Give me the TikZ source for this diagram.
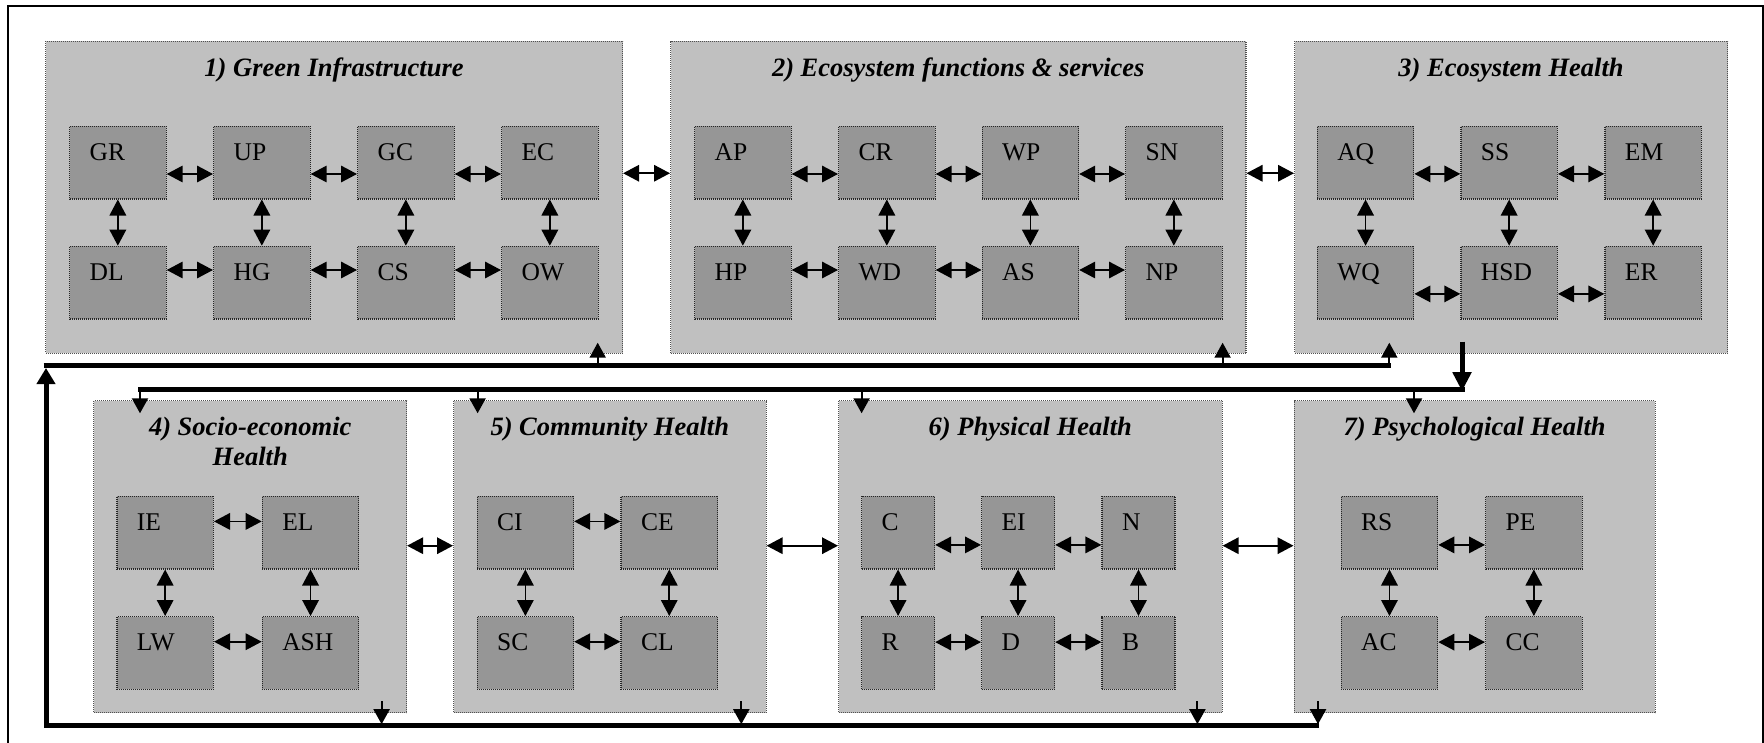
\documentclass[tikz,border=0pt]{standalone}
\usepackage{fontspec}
\setmainfont{Liberation Serif}
\usetikzlibrary{arrows.meta,calc}
\definecolor{bigfill}{RGB}{192,192,192}
\definecolor{innerfill}{RGB}{150,150,150}
\definecolor{dotcol}{RGB}{80,80,80}
\begin{document}
\begin{tikzpicture}[x=1pt,y=-1pt,
 bigbox/.style={draw=dotcol, dash pattern=on 1pt off 1pt, line width=1.1pt, fill=bigfill, anchor=north west, inner sep=0pt},
 ib/.style={draw=black!85, dash pattern=on 1pt off 1pt, line width=1.2pt, fill=innerfill, anchor=north west, inner xsep=20pt, inner ysep=0pt, align=left, text height=34.3pt, text depth=38.3pt, font=\fontsize{25.5}{28}\selectfont},
 ibw/.style={ib, text width=56.5pt},
 ibn/.style={ib, text width=33pt},
 ttl/.style={font=\fontsize{26.5}{30}\selectfont\bfseries\itshape, inner sep=0pt, anchor=base, align=center},
 arr/.style={line width=1.7pt, {Triangle[length=16pt,width=16.5pt]}-{Triangle[length=16pt,width=16.5pt]}},
 thinarr/.style={line width=2pt, -{Triangle[length=15pt,width=16pt]}},
 thickln/.style={line width=5pt}
 ]
\useasboundingbox (0,0) rectangle (1764,742);
% frame
\draw[line width=2pt] (7.7,760) -- (7.7,6) -- (1763,6) -- (1763,760);

% big boxes
\node[bigbox, minimum width=577pt, minimum height=312pt] (b1) at (45,40.7) {};
\node[bigbox, minimum width=575.4pt, minimum height=312pt] (b2) at (670,40.7) {};
\node[bigbox, minimum width=433pt, minimum height=312pt] (b3) at (1294,40.7) {};
\node[bigbox, minimum width=312.7pt, minimum height=312.3pt] (b4) at (93.3,400) {};
\node[bigbox, minimum width=312.5pt, minimum height=312.3pt] (b5) at (453,400) {};
\node[bigbox, minimum width=383.5pt, minimum height=312.3pt] (b6) at (838,400) {};
\node[bigbox, minimum width=361pt, minimum height=312.3pt] (b7) at (1293.5,400) {};

% titles
\node[ttl] (t1) at ($(b1.north)+(0,35.3)$) {1) Green Infrastructure};
\node[ttl] (t2) at ($(b2.north)+(0,35.3)$) {2) Ecosystem functions \& services};
\node[ttl] (t3) at ($(b3.north)+(0,35.3)$) {3) Ecosystem Health};
\node[ttl] (t4) at ($(b4.north)+(0,65)$) {4) Socio-economic\\Health};
\node[ttl] (t5) at ($(b5.north)+(0,35)$) {5) Community Health};
\node[ttl] (t6) at ($(b6.north)+(0,35)$) {6) Physical Health};
\node[ttl] (t7) at ($(b7.north)+(0,35)$) {7) Psychological Health};

% box 1
\node[ibw] (GR) at (69,125.7) {GR};
\node[ibw] (UP) at (213,125.7) {UP};
\node[ibw] (GC) at (357,125.7) {GC};
\node[ibw] (EC) at (501,125.7) {EC};
\node[ibw] (DL) at (69,245.7) {DL};
\node[ibw] (HG) at (213,245.7) {HG};
\node[ibw] (CS) at (357,245.7) {CS};
\node[ibw] (OW) at (501,245.7) {OW};
% box 2
\node[ibw] (AP) at (694,125.7) {AP};
\node[ibw] (CR) at (838,125.7) {CR};
\node[ibw] (WP) at (981.5,125.7) {WP};
\node[ibw] (SN) at (1125,125.7) {SN};
\node[ibw] (HP) at (694,245.7) {HP};
\node[ibw] (WD) at (838,245.7) {WD};
\node[ibw] (AS) at (981.5,245.7) {AS};
\node[ibw] (NP) at (1125,245.7) {NP};
% box 3
\node[ibw] (AQ) at (1316.7,125.7) {AQ};
\node[ibw] (SS) at (1460.3,125.7) {SS};
\node[ibw] (EM) at (1604.3,125.7) {EM};
\node[ibw] (WQ) at (1316.7,245.7) {WQ};
\node[ibw] (HSD) at (1460.3,245.7) {HSD};
\node[ibw] (ER) at (1604.3,245.7) {ER};
% box 4
\node[ibw] (IE) at (116.3,495.7) {IE};
\node[ibw] (EL) at (261.7,495.7) {EL};
\node[ibw] (LW) at (116.3,616) {LW};
\node[ibw] (ASH) at (261.7,616) {ASH};
% box 5
\node[ibw] (CI) at (476.5,495.7) {CI};
\node[ibw] (CE) at (620.4,495.7) {CE};
\node[ibw] (SC) at (476.5,616) {SC};
\node[ibw] (CL) at (620.4,616) {CL};
% box 6
\node[ibn] (C) at (861,495.7) {C};
\node[ibn] (EI) at (981,495.7) {EI};
\node[ibn] (N) at (1101.4,495.7) {N};
\node[ibn] (R) at (861,616) {R};
\node[ibn] (D) at (981,616) {D};
\node[ibn] (B) at (1101.4,616) {B};
% box 7
\node[ibw] (RS) at (1340.6,495.7) {RS};
\node[ibw] (PE) at (1485,495.7) {PE};
\node[ibw] (AC) at (1340.6,616) {AC};
\node[ibw] (CC) at (1485,616) {CC};

% inner horizontal arrows
\foreach \a/\b in {GR/UP,UP/GC,GC/EC,AP/CR,CR/WP,WP/SN}
  \draw[arr] ([yshift=-11.4pt]\a.east) -- ([yshift=-11.4pt]\b.west);
\foreach \a/\b in {DL/HG,HG/CS,CS/OW,HP/WD,WD/AS,AS/NP}
  \draw[arr] ([yshift=12.6pt]\a.east) -- ([yshift=12.6pt]\b.west);
\foreach \a/\b in {AQ/SS,SS/EM,WQ/HSD,HSD/ER}
  \draw[arr] ([yshift=-11.3pt]\a.east) -- ([yshift=-11.3pt]\b.west);
\foreach \a/\b in {IE/EL,CI/CE,LW/ASH,SC/CL}
  \draw[arr] ([yshift=11.2pt]\a.east) -- ([yshift=11.2pt]\b.west);
\foreach \a/\b in {C/EI,EI/N,RS/PE}
  \draw[arr] ([yshift=-12.3pt]\a.east) -- ([yshift=-12.3pt]\b.west);
\foreach \a/\b in {R/D,D/B,AC/CC}
  \draw[arr] ([yshift=10.8pt]\a.east) -- ([yshift=10.8pt]\b.west);
% inner vertical arrows
\foreach \a/\b in {GR/DL,UP/HG,GC/CS,EC/OW,AP/HP,CR/WD,WP/AS,SN/NP,AQ/WQ,SS/HSD,EM/ER,IE/LW,EL/ASH,CI/SC,CE/CL,C/R,EI/D,N/B,RS/AC,PE/CC}
  \draw[arr] (\a.south) -- (\b.north);
% arrows between big boxes
\foreach \a/\b in {b1/b2,b2/b3}
  \draw[arr] ([yshift=24pt]\a.east) -- ([yshift=24pt]\b.west);
\foreach \a/\b in {b4/b5,b5/b6,b6/b7}
  \draw[arr] ([yshift=11pt]\a.east) -- ([yshift=11pt]\b.west);

% feedback loop (line 1 and bottom line 3)
\coordinate (L1a) at (43.5,365.5);
\coordinate (L1b) at (1390.5,365.5);
\coordinate (L3a) at (46,725.7);
\coordinate (L3b) at (1319,725.7);
\coordinate (L1tip) at (46,368);
\draw[thickln, -{Triangle[length=16pt,width=18pt]}] (L3b) -- (L3a) -- (L1tip);
\draw[thickln] (L1a) -- (L1b);
\coordinate (u1) at (597.7,342.7);
\coordinate (u2) at (1222.6,342.7);
\coordinate (u3) at (1389.3,342.7);
\foreach \u in {u1,u2,u3}
  \draw[thinarr] (\u |- L1a) -- (\u);
\coordinate (d4) at (381.6,701);
\coordinate (d5) at (741.3,701);
\coordinate (d6) at (1197.4,701);
\coordinate (d7) at (1318,701);
\foreach \d in {d4,d5,d6,d7}
  \draw[thinarr] (\d) -- ([yshift=1.5pt]\d |- L3a);

% line 2 from ecosystem health to human health
\coordinate (s3) at (1462,341.7);
\coordinate (L2tip) at (1462,391.2);
\coordinate (L2a) at (1464.5,389.2);
\coordinate (L2b) at (137.5,389.2);
\draw[thickln, -{Triangle[length=19pt,width=18pt]}] (s3) -- (L2tip);
\draw[thickln] (L2a) -- (L2b);
\coordinate (i4) at (140,413.3);
\coordinate (i5) at (477.6,413.3);
\coordinate (i6) at (861.6,413.3);
\coordinate (i7) at (1414,413.3);
\foreach \i in {i4,i5,i6,i7}
  \draw[thinarr] (\i |- L2a) -- (\i);
\end{tikzpicture}
\end{document}
